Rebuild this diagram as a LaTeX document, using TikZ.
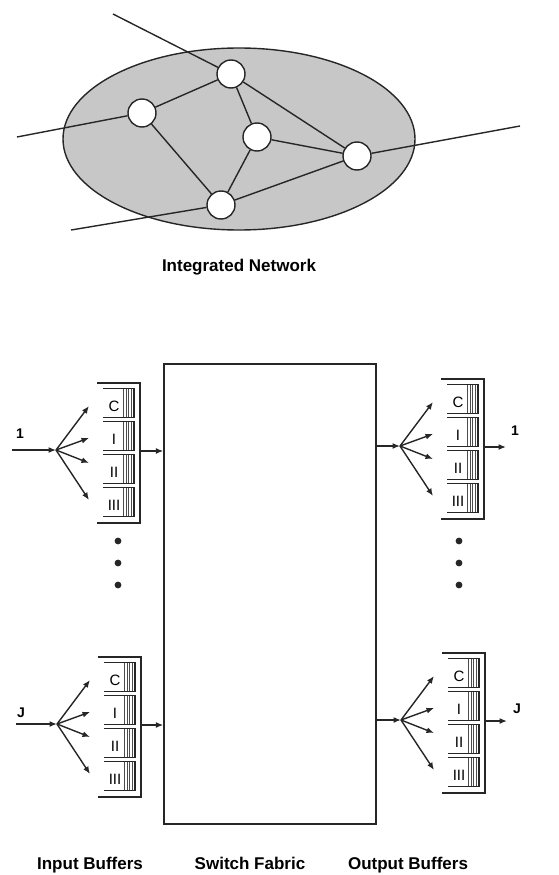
\documentclass[tikz,border=0pt]{standalone}
\usepackage{fontspec}
\setmainfont{Liberation Sans}
\usetikzlibrary{arrows.meta}

\begin{document}
\begin{tikzpicture}[x=1pt, y=-1pt,
  line/.style={draw=black!85, line width=1.4pt},
  arr/.style={line, -{Latex[length=7.5pt,width=6pt]}},
  hub/.style={circle, draw=black!85, line width=1.4pt, fill=white,
              minimum size=28pt, inner sep=0pt},
  caption/.style={font=\fontsize{17}{20}\selectfont\bfseries, anchor=base},
  port/.style={font=\fontsize{14}{16}\selectfont\bfseries, anchor=base},
  bufl/.style={font=\fontsize{15}{17}\selectfont, inner sep=0pt},
  stripe/.style={draw=black!70, line width=0.7pt},
  buffer/.pic={
    \draw[line] (0,0) -- (43,0) -- (43,140) -- (0,140);
    \foreach \lab [count=\k from 0] in {C,I,II,III}{
      \pgfmathsetmacro\ctop{5.5+33*\k}
      \foreach \sx in {26.5,29,31.5,34}
        \draw[stripe] (\sx,\ctop) -- (\sx,\ctop+29);
      \draw[line, line width=1.1pt] (6,\ctop) -- (37,\ctop) -- (37,\ctop+29) -- (6,\ctop+29);
      \node[bufl] at (17,\ctop+18) {\lab};
    }
    \coordinate (-out) at (43,68);
    \coordinate (-exit) at (65,68);
    \coordinate (-fan) at (-41,67);
    \coordinate (-t1) at (-8,23);
    \coordinate (-t2) at (-8,55);
    \coordinate (-t3) at (-8,80);
    \coordinate (-t4) at (-8,117);
  },
  ]
  \useasboundingbox (0,0) rectangle (559,875);

  % integrated network
  \draw[line, fill=black!22] (239,139) ellipse [x radius=176pt, y radius=91pt];
  \node[hub] (top)  at (231,74)  {};
  \node[hub] (west) at (142,113) {};
  \node[hub] (mid)  at (257,137) {};
  \node[hub] (east) at (357,156) {};
  \node[hub] (bot)  at (221,205) {};
  \coordinate (lt) at (113,14);
  \coordinate (lw) at (17,137);
  \coordinate (le) at (520,126);
  \coordinate (lb) at (71,230);
  \draw[line] (lt) -- (top);
  \draw[line] (lw) -- (west);
  \draw[line] (le) -- (east);
  \draw[line] (lb) -- (bot);
  \draw[line] (top) -- (west);
  \draw[line] (top) -- (mid);
  \draw[line] (top) -- (east);
  \draw[line] (west) -- (bot);
  \draw[line] (mid) -- (east);
  \draw[line] (mid) -- (bot);
  \draw[line] (bot) -- (east);
  \node[caption] (netl) at (239,271) {Integrated Network};

  % switch
  \node[line, minimum width=212pt, minimum height=460pt] (fabric) at (270,594) {};

  \pic (ib1) at (97,383) {buffer};
  \pic (ibJ) at (98,657) {buffer};
  \pic (ob1) at (441,379) {buffer};
  \pic (obJ) at (442,653) {buffer};

  \foreach \b in {ib1,ibJ,ob1,obJ}
    \foreach \k in {1,...,4}
      \draw[arr] (\b-fan) -- (\b-t\k);

  \coordinate (src1) at (12,450);
  \coordinate (srcJ) at (16,724);
  \draw[arr] (src1) -- (ib1-fan);
  \draw[arr] (srcJ) -- (ibJ-fan);
  \draw[arr] (ib1-out) -- (ib1-out -| fabric.west);
  \draw[arr] (ibJ-out) -- (ibJ-out -| fabric.west);
  \draw[arr] (ob1-fan -| fabric.east) -- (ob1-fan);
  \draw[arr] (obJ-fan -| fabric.east) -- (obJ-fan);
  \draw[arr] (ob1-out) -- (ob1-exit);
  \draw[arr] (obJ-out) -- (obJ-exit);

  \node[port] (in1)  at (20,438)  {1};
  \node[port] (inJ)  at (21,717)  {J};
  \node[port] (out1) at (515,435) {1};
  \node[port] (outJ) at (517,713) {J};

  \foreach \y in {541,563,585}{
    \fill[black!85] (118,\y) circle [radius=3.4pt];
    \fill[black!85] (459,\y) circle [radius=3.4pt];
  }

  \node[caption] (inl)  at (90,869)  {Input Buffers};
  \node[caption] (swl)  at (250,869) {Switch Fabric};
  \node[caption] (outl) at (408,869) {Output Buffers};
\end{tikzpicture}
\end{document}
